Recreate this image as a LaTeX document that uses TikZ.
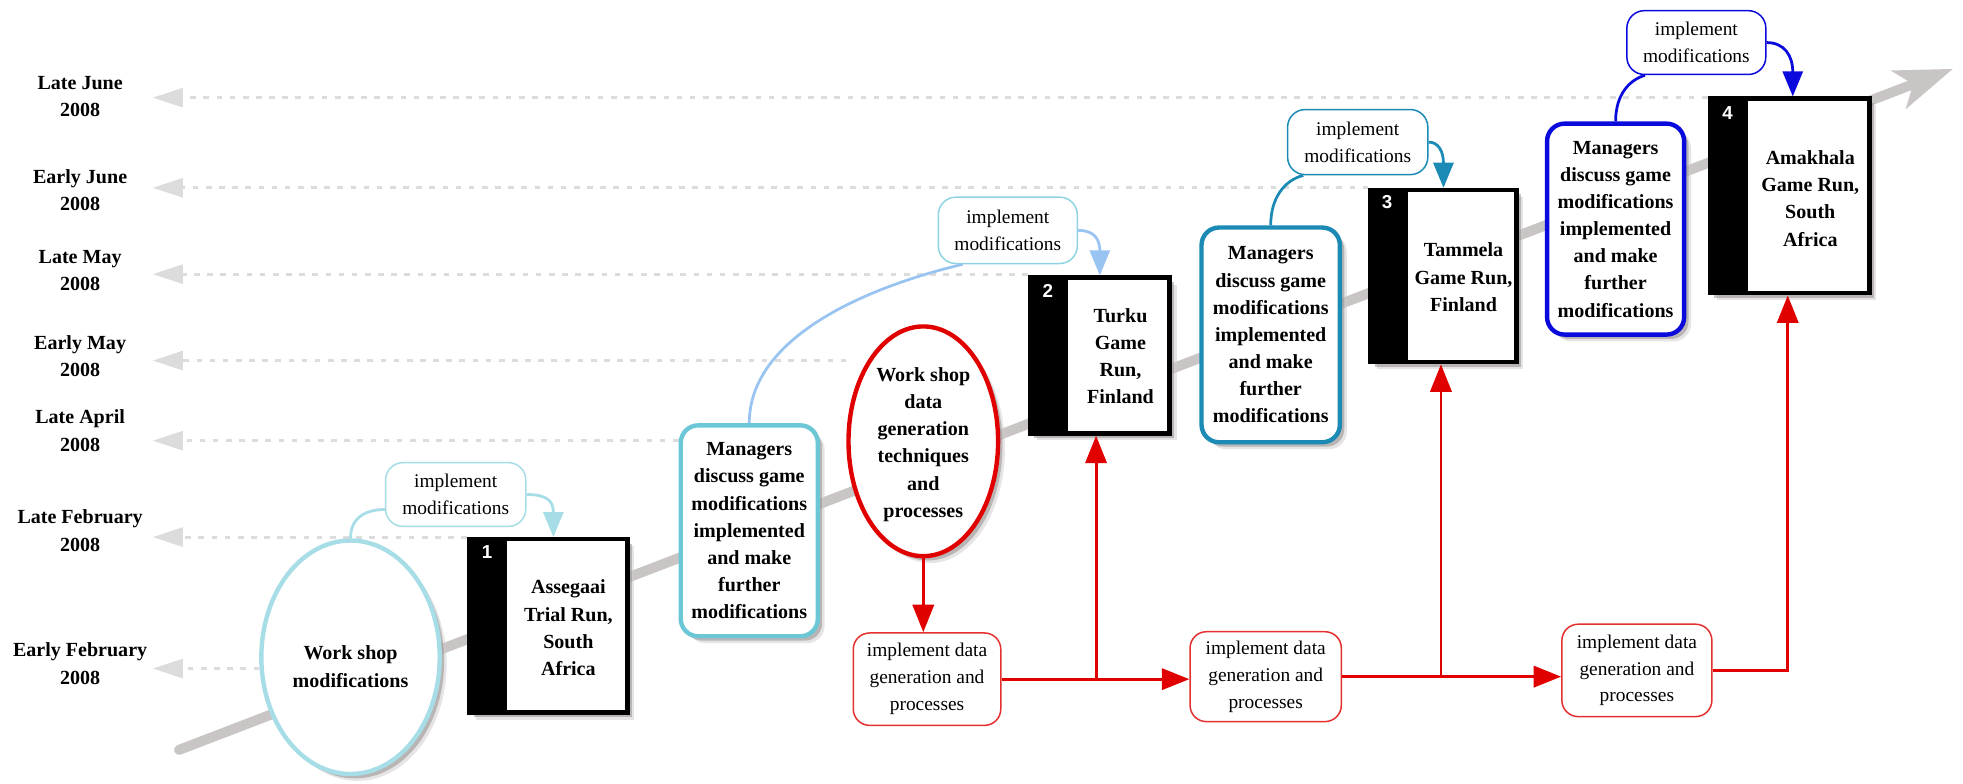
\documentclass[tikz,border=0pt]{standalone}
\usepackage{fontspec}
\setmainfont{Liberation Serif}
\newfontfamily\numfont{Liberation Sans}
\usetikzlibrary{arrows.meta,shapes.geometric,shadows}
\pgfdeclarelayer{background}
\pgfsetlayers{background,main}

\definecolor{timegray}{HTML}{C9C5C5}
\definecolor{dashgray}{HTML}{DCDCDC}
\definecolor{paleCyan}{HTML}{A6DDE6}
\definecolor{midCyan}{HTML}{6BC7D6}
\definecolor{lightBlue}{HTML}{99C4F2}
\definecolor{calloutCyan}{HTML}{8ED3E2}
\definecolor{tealBlue}{HTML}{1B8BB5}
\definecolor{deepBlue}{HTML}{0A0ADC}
\definecolor{runRed}{HTML}{E00000}
\definecolor{boxRed}{HTML}{E43030}
\definecolor{shadowdark}{HTML}{8E8888}
\definecolor{shadowlight}{HTML}{CFCBCB}

\begin{document}
\begin{tikzpicture}[x=1pt,y=-1pt,
  boldtext/.style={font=\bfseries\fontsize{16}{21.7}\selectfont, align=center},
  plaintext/.style={font=\fontsize{15.5}{21.5}\selectfont, align=center},
  datelabel/.style={boldtext, font=\bfseries\fontsize{16}{22}\selectfont},
  softshadow/.style={
      drop shadow={shadow xshift=5.5pt, shadow yshift=-5.5pt, fill=shadowlight},
      drop shadow={shadow xshift=3.5pt, shadow yshift=-3.5pt, fill=shadowdark}},
  gamebox/.style={draw=black, line width=3.5pt, fill=white, inner sep=0pt, softshadow},
  boxnum/.style={text=white, font=\numfont\bfseries\fontsize{15}{15}\selectfont, inner sep=0pt},
  managers/.style={boldtext, rounded corners=14pt, line width=3.5pt, fill=white,
      inner sep=0pt, softshadow},
  workshop/.style={ellipse, line width=3.5pt, fill=white, inner sep=0pt, softshadow},
  callout/.style={plaintext, rounded corners=14pt, line width=1.2pt, fill=white, inner sep=0pt},
  datarun/.style={plaintext, draw=boxRed, rounded corners=13pt, line width=1.2pt,
      fill=white, inner sep=0pt},
  tip/.style={-{Triangle[length=20pt,width=16pt]}},
  linkline/.style={line width=2.2pt},
  redarrow/.style={draw=runRed, line width=2.3pt, -{Triangle[length=22pt,width=17pt]}},
  dateline/.style={draw=dashgray, line width=2.5pt, dash pattern=on 4.5pt off 6pt,
      -{Triangle[length=24pt,width=15pt,fill=dashgray]}},
  mainarrow/.style={draw=timegray, line width=8pt, line cap=round,
      -{Stealth[length=46pt,width=32pt,inset=12pt]}}
]
\begin{pgfonlayer}{background}
  \fill[white] (0,0) rectangle (1568,626);
\end{pgfonlayer}
\useasboundingbox (0,0) rectangle (1568,626);

% ---- date labels ----
\node[datelabel] (d1) at (64,77)    {Late June\\2008};
\node[datelabel] (d2) at (64,152)   {Early June\\2008};
\node[datelabel] (d3) at (64,216)   {Late May\\2008};
\node[datelabel] (d4) at (64,284.5) {Early May\\2008};
\node[datelabel] (d5) at (64,344)   {Late April\\2008};
\node[datelabel] (d6) at (64,424)   {Late February\\2008};
\node[datelabel] (d7) at (64,530)   {Early February\\2008};

\coordinate (t1) at (122,78);
\coordinate (t2) at (122,150);
\coordinate (t3) at (122,219);
\coordinate (t4) at (122,288);
\coordinate (t5) at (122,352);
\coordinate (t6) at (122,429);
\coordinate (t7) at (122,534);

% ---- stage 1 ----
\node[workshop, draw=paleCyan, minimum width=142.5pt, minimum height=186.5pt] (e1) at (280,525) {};
\node[boldtext] (e1t) at (280,532.5) {Work shop\\modifications};
\node[callout, draw=paleCyan, minimum width=112pt, minimum height=51pt] (c1) at (364,395)
  {implement\\modifications};
\node[gamebox, minimum width=126.5pt, minimum height=138.5pt] (b1) at (438,500) {};
\fill[black] (b1.north west) rectangle ([xshift=32pt]b1.south west);
\node[boxnum] (n1) at ([xshift=16pt,yshift=-12pt]b1.north west) {1};
\node[boldtext] (b1t) at (454,501.5) {Assegaai\\Trial Run,\\South\\Africa};

% ---- stage 2 ----
\node[managers, draw=midCyan, minimum width=109.5pt, minimum height=168.5pt] (m1) at (598.5,424)
  {Managers\\discuss game\\modifications\\implemented\\and make\\further\\modifications};
\node[workshop, draw=runRed, minimum width=119.5pt, minimum height=183.5pt] (e2) at (737.5,352.5) {};
\node[boldtext] (e2t) at (737.5,355) {Work shop\\data\\generation\\techniques\\and\\processes};
\node[datarun, minimum width=117.8pt, minimum height=73.8pt] (r1) at (740.5,542.5)
  {implement data\\generation and\\processes};
\node[callout, draw=calloutCyan, minimum width=111pt, minimum height=53pt] (c2) at (805,184)
  {implement\\modifications};
\node[gamebox, minimum width=111.5pt, minimum height=124.5pt] (b2) at (878.5,284) {};
\fill[black] (b2.north west) rectangle ([xshift=32pt]b2.south west);
\node[boxnum] (n2) at ([xshift=16pt,yshift=-12pt]b2.north west) {2};
\node[boldtext] (b2t) at (895,284.5) {Turku\\Game\\Run,\\Finland};

% ---- stage 3 ----
\node[managers, draw=tealBlue, minimum width=110.5pt, minimum height=171.5pt] (m2) at (1015,267.5)
  {Managers\\discuss game\\modifications\\implemented\\and make\\further\\modifications};
\node[datarun, minimum width=120.8pt, minimum height=71.8pt] (r2) at (1011,540.5)
  {implement data\\generation and\\processes};
\node[callout, draw=tealBlue, minimum width=112pt, minimum height=52pt] (c3) at (1084.5,113.5)
  {implement\\modifications};
\node[gamebox, minimum width=116.5pt, minimum height=137.5pt] (b3) at (1153,220.5) {};
\fill[black] (b3.north west) rectangle ([xshift=32pt]b3.south west);
\node[boxnum] (n3) at ([xshift=15pt,yshift=-11pt]b3.north west) {3};
\node[boldtext] (b3t) at (1169,221.5) {Tammela\\Game Run,\\Finland};

% ---- stage 4 ----
\node[managers, draw=deepBlue, minimum width=109.5pt, minimum height=168.5pt] (m3) at (1290.5,183)
  {Managers\\discuss game\\modifications\\implemented\\and make\\further\\modifications};
\node[datarun, minimum width=119.8pt, minimum height=73.8pt] (r3) at (1307.5,535.5)
  {implement data\\generation and\\processes};
\node[callout, draw=deepBlue, minimum width=111pt, minimum height=51pt] (c4) at (1355,34)
  {implement\\modifications};
\node[gamebox, minimum width=127.5pt, minimum height=155.5pt] (b4) at (1429.5,156.5) {};
\fill[black] (b4.north west) rectangle ([xshift=32pt]b4.south west);
\node[boxnum] (n4) at ([xshift=16pt,yshift=-13pt]b4.north west) {4};
\node[boldtext] (b4t) at (1446,158.5) {Amakhala\\Game Run,\\South\\Africa};

% ---- modification loops ----
\draw[linkline, paleCyan] (e1.north) .. controls (280,412) and (294,407) .. ([yshift=-12pt]c1.west);
\draw[linkline, paleCyan, tip] (c1.east) .. controls (437,395) and (442,400) .. ([xshift=4pt]b1.north);

\draw[linkline, lightBlue] (m1.north) .. controls (598.5,270) and (690,230) .. ([xshift=-36pt]c2.south);
\draw[linkline, lightBlue, tip] (c2.east) .. controls (875,184) and (878.5,192) .. (b2.north);

\draw[linkline, tealBlue] (m2.north) .. controls (1015,158) and (1026,144) .. ([xshift=-43.5pt]c3.south);
\draw[linkline, tealBlue, tip] (c3.east) .. controls (1149,113.5) and (1153,121) .. (b3.north);

\draw[linkline, deepBlue] (m3.north) .. controls (1290.5,76) and (1301,64) .. ([xshift=-41pt]c4.south);
\draw[linkline, deepBlue, tip] (c4.east) .. controls (1425,34) and (1432,44) .. ([xshift=2.5pt]b4.north);

% ---- data generation flow ----
\draw[redarrow] (e2.south) -- (e2.south |- r1.north);
\draw[redarrow] (r1.east) -- (r1.east -| r2.west);
\coordinate (j1) at (875.5,542.5);
\draw[redarrow] (j1) -- (j1 |- b2.south);
\draw[redarrow] (r2.east) -- (r2.east -| r3.west);
\coordinate (j2) at (1151,540.5);
\draw[redarrow] (j2) -- (j2 |- b3.south);
\draw[redarrow] (r3.east) -| ([xshift=-1.5pt]b4.south);

% ---- time axis and date guides ----
\coordinate (g0) at (143,599);
\coordinate (g1) at (1560,55);
\begin{pgfonlayer}{background}
  \draw[dateline] (b4.west |- t1) -- (t1);
  \draw[dateline] (b3.west |- t2) -- (t2);
  \draw[dateline] (b2.west |- t3) -- (t3);
  \draw[dateline] (e2.west |- t4) -- (t4);
  \draw[dateline] (m1.west |- t5) -- (t5);
  \draw[dateline] (b1.west |- t6) -- (t6);
  \draw[dateline] (e1.west |- t7) -- (t7);
  \draw[mainarrow] (g0) -- (g1);
\end{pgfonlayer}
\end{tikzpicture}
\end{document}
